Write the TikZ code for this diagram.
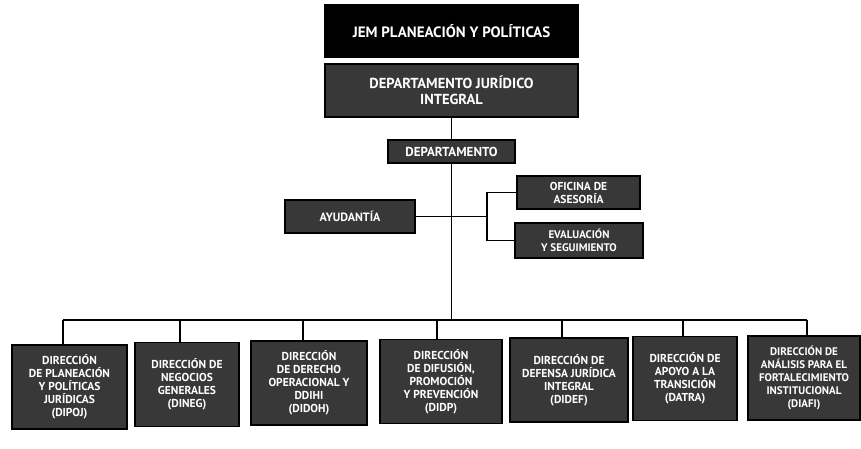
\documentclass[tikz,border=0pt]{standalone}
\usepackage{fontspec}
\setmainfont{PT Sans}
\begin{document}
\begin{tikzpicture}[x=1pt,y=-1pt,
  box/.style={draw=black,line width=1.2pt,fill=black!78,text=white,font=\bfseries,
    align=center,inner sep=1pt},
  topbox/.style={box,fill=black},
  unit/.style={box,minimum height=84pt,font=\bfseries\fontsize{11.5}{13}\selectfont},
  conn/.style={line width=1.4pt,black}]
\useasboundingbox (0,0) rectangle (861,449);
\node[topbox,minimum width=253pt,minimum height=52pt,font=\bfseries\fontsize{15}{17}\selectfont] (jem) at (451.5,31) {JEM PLANEACIÓN Y POLÍTICAS};
\node[box,minimum width=253pt,minimum height=53pt,font=\bfseries\fontsize{14.5}{16}\selectfont] (dji) at (451.5,90.5) {DEPARTAMENTO JURÍDICO\\INTEGRAL};
\node[box,minimum width=127pt,minimum height=23pt,font=\bfseries\fontsize{13}{14}\selectfont] (dep) at (451.5,151.5) {DEPARTAMENTO};
\node[box,minimum width=130pt,minimum height=33pt,font=\bfseries\fontsize{12}{13}\selectfont] (ayu) at (350,216.5) {AYUDANTÍA};
\node[box,minimum width=123pt,minimum height=33pt,font=\bfseries\fontsize{11.5}{13}\selectfont] (ofi) at (578.5,192.5) {OFICINA DE\\ASESORÍA};
\node[box,minimum width=128pt,minimum height=35pt,font=\bfseries\fontsize{11}{13}\selectfont] (eva) at (579,240.5) {EVALUACIÓN\\Y SEGUIMIENTO};

\node[unit,minimum width=115pt] (b1) at (69.5,387) {DIRECCIÓN\\DE PLANEACIÓN\\Y POLÍTICAS\\JURÍDICAS\\(DIPOJ)};
\node[unit,minimum width=104pt] (b2) at (187,384.5) {DIRECCIÓN DE\\NEGOCIOS\\GENERALES\\(DINEG)};
\node[unit,minimum width=116pt] (b3) at (309,383) {DIRECCIÓN\\DE DERECHO\\OPERACIONAL Y\\DDIHI\\(DIDOH)};
\node[unit,minimum width=122pt] (b4) at (441,381.5) {DIRECCIÓN\\DE DIFUSIÓN,\\PROMOCIÓN\\Y PREVENCIÓN\\(DIDP)};
\node[unit,minimum width=118pt] (b5) at (569,380) {DIRECCIÓN DE\\DEFENSA JURÍDICA\\INTEGRAL\\(DIDEF)};
\node[unit,minimum width=104pt] (b6) at (685,378.5) {DIRECCIÓN DE\\APOYO A LA\\TRANSICIÓN\\(DATRA)};
\node[unit,minimum width=112pt,font=\bfseries\fontsize{11}{13}\selectfont] (b7) at (804,378) {DIRECCIÓN DE\\ANÁLISIS PARA EL\\FORTALECIMIENTO\\INSTITUCIONAL\\(DIAFI)};

\coordinate (busL) at (63,320);
\coordinate (busR) at (807,320);
\coordinate (br) at (487,216.5);

\draw[conn] (dji.south) -- (dep.north);
\draw[conn] (dep.south) -- (dep.south |- busL);
\draw[conn] (busL) -- (busR);
\draw[conn] (ayu.east) -- (br);
\draw[conn] (ofi.west) -| (br) |- (eva.west);
\draw[conn] ([xshift=-6.5pt]b1.north) -- ([xshift=-6.5pt]b1.north |- busL);
\draw[conn] ([xshift=-7pt]b2.north) -- ([xshift=-7pt]b2.north |- busL);
\draw[conn] ([xshift=-6pt]b3.north) -- ([xshift=-6pt]b3.north |- busL);
\draw[conn] ([xshift=-4pt]b4.north) -- ([xshift=-4pt]b4.north |- busL);
\draw[conn] ([xshift=-7pt]b5.north) -- ([xshift=-7pt]b5.north |- busL);
\draw[conn] ([xshift=-2pt]b6.north) -- ([xshift=-2pt]b6.north |- busL);
\draw[conn] ([xshift=3pt]b7.north) -- ([xshift=3pt]b7.north |- busL);
\end{tikzpicture}
\end{document}
